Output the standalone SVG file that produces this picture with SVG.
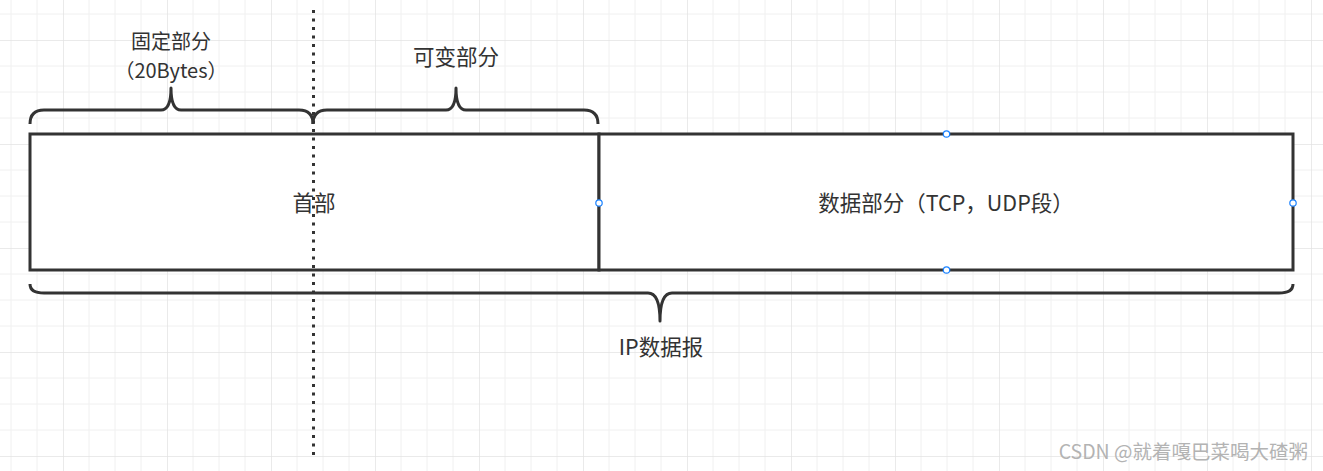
<svg xmlns="http://www.w3.org/2000/svg" width="1323" height="471" viewBox="0 0 1323 471">
<defs>
<pattern id="grid" patternUnits="userSpaceOnUse" x="63" y="40" width="104" height="104">
<path d="M26,0V104M52,0V104M78,0V104M0,26H104M0,52H104M0,78H104" fill="none" stroke="#f0f0f0" stroke-width="1"/>
<path d="M0,0V104M0,0H104" fill="none" stroke="#e3e3e3" stroke-width="1.5"/>
</pattern>
<style>
.box{fill:#fff;stroke:#333;stroke-width:3}
.brace{fill:none;stroke:#333;stroke-width:3;stroke-linejoin:round}
.t{font-family:"Noto Sans CJK SC","Microsoft YaHei",sans-serif;font-size:21.5px;fill:#333;text-anchor:middle}
.pt{fill:#fff;stroke:#1a82ff;stroke-width:1.2}
</style>
</defs>
<rect width="1323" height="471" fill="#fff"/>
<rect width="1323" height="471" fill="url(#grid)"/>
<g id="header">
<rect class="box" x="30" y="134" width="569" height="136"/>
<text class="t" x="314" y="211">首部</text>
</g>
<g id="data">
<rect class="box" x="599" y="134" width="694" height="136"/>
<text class="t" x="946" y="211">数据部分（TCP，UDP段）</text>
</g>
<g id="connectors">
<line x1="313.5" y1="10" x2="313.5" y2="456" stroke="#333" stroke-width="3" stroke-dasharray="3 5.5"/>
<path class="brace" d="M30,124 Q30,110 44,110 L161,110 Q171,110 171,88 Q171,110 181,110 L299,110 Q313,110 313,124"/>
<path class="brace" d="M313,124 Q313,110 327,110 L446,110 Q456,110 456,88 Q456,110 466,110 L584,110 Q598,110 598,124"/>
<path class="brace" d="M30,284 Q30,293 44,293 L648,293 Q660,293 660,321 Q660,293 672,293 L1279,293 Q1293,293 1293,284"/>
</g>
<g id="label-fixed">
<text class="t" x="171" y="49" style="font-size:20px">固定部分</text>
<text class="t" x="171" y="78" style="font-size:20px">（20Bytes）</text>
</g>
<g id="label-var">
<text class="t" x="456" y="65">可变部分</text>
</g>
<g id="label-ip">
<text class="t" x="661" y="355">IP数据报</text>
</g>
<g id="handles">
<circle class="pt" cx="599" cy="203" r="3.2"/>
<circle class="pt" cx="946.5" cy="134" r="3.2"/>
<circle class="pt" cx="946.5" cy="270" r="3.2"/>
<circle class="pt" cx="1293" cy="203" r="3.2"/>
</g>
<text x="1308" y="459" font-family="'Noto Sans CJK SC','Microsoft YaHei',sans-serif" font-size="19.5" fill="#b3b3b3" text-anchor="end">CSDN @就着嘎巴菜喝大碴粥</text>
</svg>
